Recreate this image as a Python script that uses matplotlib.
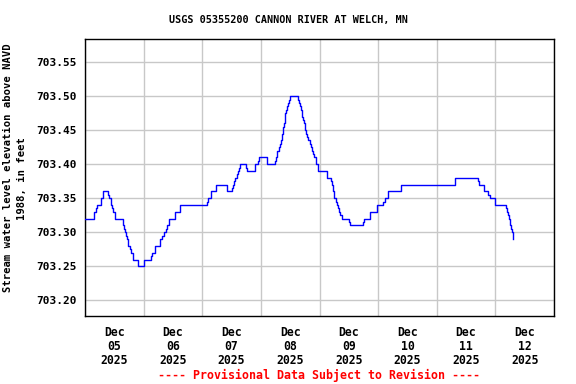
import matplotlib
matplotlib.use("Agg")
import matplotlib.pyplot as plt
import matplotlib.dates as mdates
import pandas as pd
import numpy as np

title = "USGS 05355200 CANNON RIVER AT WELCH, MN"
ylabel1 = "Stream water level elevation above NAVD"
ylabel2 = "1988, in feet"
footer = "---- Provisional Data Subject to Revision ----"

start = pd.Timestamp("2025-12-05 00:00")
end = pd.Timestamp("2025-12-13 00:00")

# hours since 2025-12-05 00:00 at which the reading changes
hours = [0, 3.61, 4.31, 4.84, 6.48, 7.30, 9.23, 9.76, 10.58, 10.99, 11.57, 12.23,
         15.67, 16.08, 16.49, 16.90, 17.31, 17.56, 18.38, 18.79, 19.77, 21.66,
         24.12, 27.0, 27.4, 28.64, 30.85, 31.67, 32.2, 33.15, 33.56, 34.38, 36.72,
         39.06, 49.97, 50.54, 51.77, 53.83, 57.93, 60.10, 60.51, 60.92, 61.33,
         62.03, 62.44, 62.98, 63.39, 65.72, 66.26, 69.54, 70.89, 71.30, 74.46,
         77.74, 78.28, 78.69, 79.51, 79.92, 80.33, 80.74, 81.15, 81.56, 81.97,
         82.38, 82.79, 83.20, 83.61, 84.02, 87.30, 87.71, 88.12, 88.53, 89.03,
         89.44, 89.85, 90.26, 90.67, 91.08, 91.49, 91.98, 92.39, 93.05, 93.54,
         93.95, 94.44, 95.51, 98.95, 100.59, 101.0, 101.41, 101.66, 102.07,
         102.65, 103.06, 103.47, 103.88, 104.49, 105.35, 108.10, 108.39, 113.72,
         114.13, 116.84, 119.47, 122.17, 122.75, 124.10, 129.56, 151.30, 160.90,
         161.15, 163.2, 165.13, 165.66, 168.0, 172.39, 172.80, 173.21, 173.62,
         174.03, 174.44, 174.85, 175.10]

elev = [703.32, 703.33, 703.335, 703.34, 703.35, 703.36, 703.355, 703.35, 703.34,
        703.335, 703.33, 703.32, 703.31, 703.305, 703.30, 703.295, 703.29, 703.28,
        703.275, 703.27, 703.26, 703.25, 703.26, 703.265, 703.27, 703.28, 703.29,
        703.295, 703.30, 703.305, 703.31, 703.32, 703.33, 703.34, 703.345, 703.35,
        703.36, 703.37, 703.36, 703.365, 703.37, 703.375, 703.38, 703.385, 703.39,
        703.395, 703.40, 703.395, 703.39, 703.40, 703.405, 703.41, 703.40, 703.405,
        703.41, 703.42, 703.425, 703.43, 703.435, 703.445, 703.455, 703.46, 703.475,
        703.48, 703.485, 703.49, 703.495, 703.50, 703.495, 703.49, 703.485, 703.48,
        703.47, 703.465, 703.46, 703.45, 703.445, 703.44, 703.435, 703.43, 703.425,
        703.42, 703.415, 703.41, 703.40, 703.39, 703.38, 703.375, 703.37, 703.365,
        703.36, 703.35, 703.345, 703.34, 703.335, 703.33, 703.325, 703.32, 703.315,
        703.31, 703.315, 703.32, 703.33, 703.34, 703.345, 703.35, 703.36, 703.37,
        703.38, 703.375, 703.37, 703.36, 703.355, 703.35, 703.34, 703.335, 703.33,
        703.325, 703.32, 703.31, 703.305, 703.30, 703.29]

yticks = [703.20, 703.25, 703.30, 703.35, 703.40, 703.45, 703.50, 703.55]
ylim = (703.177, 703.584)

times = start + pd.to_timedelta(hours, unit="h")

font = "DejaVu Sans Mono"
fig = plt.figure(figsize=(5.76, 3.84), dpi=100)
ax = fig.add_axes([85/576, 1-316/384, (554-85)/576, (316-39)/384])

ax.plot(times, elev, drawstyle="steps-post", color="#0000ff", lw=1.0, zorder=3)

ax.set_xlim(start, end)
ax.set_ylim(*ylim)
ax.set_yticks(yticks)
ax.set_yticklabels([f"{v:.2f}" for v in yticks], fontfamily=font,
                   fontweight="bold", fontsize=8)

days = pd.date_range(start, end, freq="D")
noons = days[:-1] + pd.Timedelta(hours=12)
ax.set_xticks(days)
ax.set_xticklabels([""] * len(days))
ax.set_xticks(noons, minor=True)
ax.set_xticklabels([d.strftime("%b\n%d\n%Y") for d in noons], minor=True,
                   fontfamily=font, fontweight="bold", fontsize=8.3,
                   linespacing=1.1)

ax.tick_params(axis="both", which="both", length=0)
ax.tick_params(axis="y", pad=6)
ax.tick_params(axis="x", which="minor", pad=7)
ax.grid(True, which="major", color="#c8c8c8", lw=1.0, zorder=1)
for s in ax.spines.values():
    s.set_linewidth(1.0)
    s.set_color("black")

fig.text(288/576, 1-20/384, title, ha="center", va="center",
         fontfamily=font, fontweight="bold", fontsize=7.3)
fig.text(8.5/576, 1-167.5/384, ylabel1, rotation=90, ha="center", va="center",
         fontfamily=font, fontweight="bold", fontsize=7.6)
fig.text(22/576, 1-179/384, ylabel2, rotation=90, ha="center", va="center",
         fontfamily=font, fontweight="bold", fontsize=7.6)
fig.text(318.5/576, 1-375/384, footer, ha="center", va="center", color="#ff0000",
         fontfamily=font, fontweight="bold", fontsize=8.4)

fig.savefig("out.png", dpi=100)
